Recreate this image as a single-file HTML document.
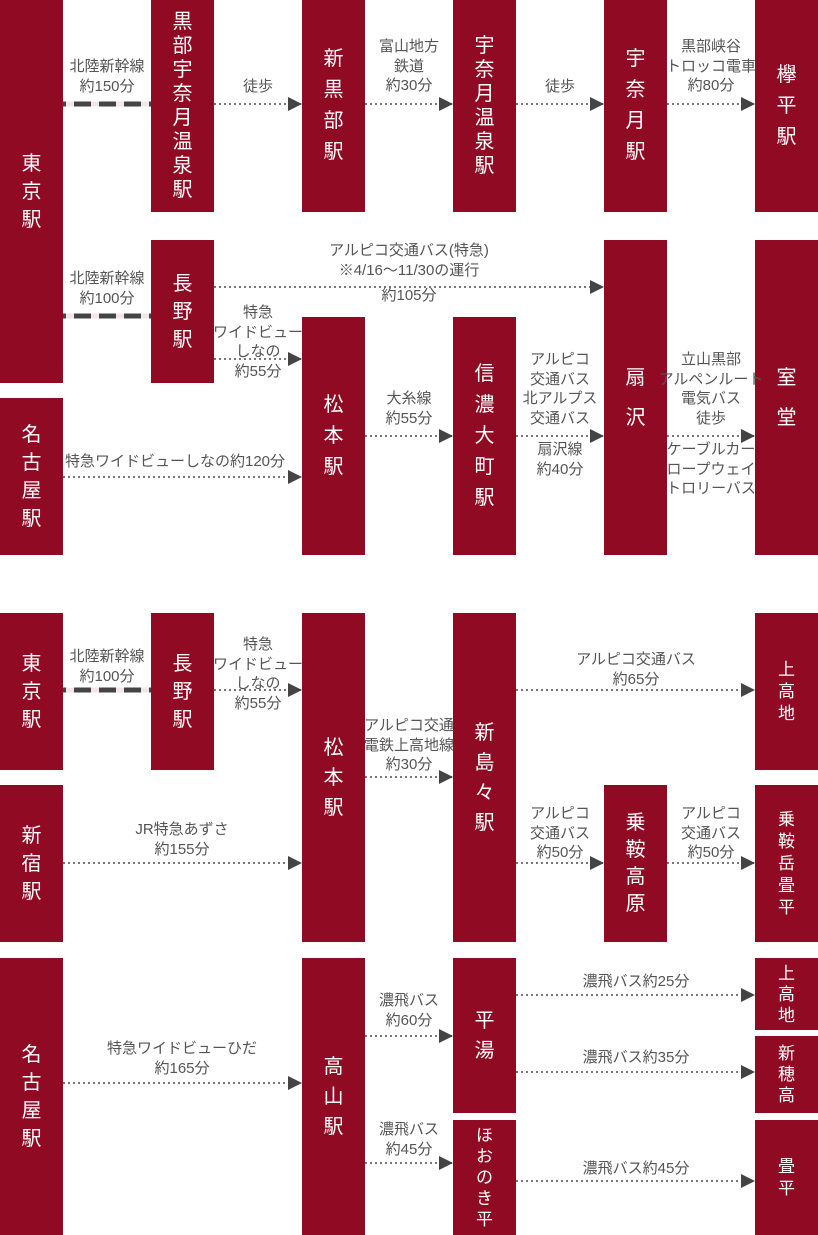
<!DOCTYPE html>
<html><head><meta charset="utf-8"><style>
body{margin:0;width:818px;height:1235px;position:relative;background:#fff;font-family:"Liberation Sans","Noto Sans CJK JP",sans-serif;overflow:hidden}
.b{position:absolute;background:#8f0a22;color:#fff;width:63px;display:flex;align-items:center;justify-content:center;text-align:center;font-size:20px;line-height:28px}
.l{position:absolute;width:180px;margin-left:-90px;text-align:center;color:#555;font-size:15px;line-height:19.5px;white-space:nowrap}
svg{position:absolute;left:0;top:0}
</style></head><body>
<svg width="818" height="1235">
<defs><marker id="a" markerWidth="14" markerHeight="14" refX="14" refY="7" orient="auto" markerUnits="userSpaceOnUse"><path d="M0,0L14,7L0,14z" fill="#444"/></marker></defs>
<g stroke="#777" stroke-width="2" stroke-dasharray="2 3" fill="none" marker-end="url(#a)">
<path d="M214,104H302"/><path d="M365,104H453"/><path d="M516,104H604"/><path d="M667,104H755"/>
<path d="M214,287H604"/><path d="M214,359H302"/><path d="M365,436H453"/><path d="M516,436H604"/><path d="M667,436H755"/><path d="M63,477H302"/>
<path d="M214,690H302"/><path d="M516,690H755"/><path d="M365,777H453"/><path d="M63,863H302"/><path d="M516,863H604"/><path d="M667,863H755"/>
<path d="M63,1083H302"/><path d="M365,1036H453"/><path d="M365,1163H453"/><path d="M516,995H755"/><path d="M516,1072H755"/><path d="M516,1181H755"/>
</g>
<g stroke-width="5" fill="none">
<path d="M63,104H151" stroke="#444"/><path d="M66,104H151" stroke="#f2e6e8" stroke-dasharray="8 17"/>
<path d="M63,316H151" stroke="#444"/><path d="M66,316H151" stroke="#f2e6e8" stroke-dasharray="8 17"/>
<path d="M63,690H151" stroke="#444"/><path d="M66,690H151" stroke="#f2e6e8" stroke-dasharray="8 17"/>
</g>
</svg>
<div class="b" style="left:0;top:0;height:383px">東<br>京<br>駅</div>
<div class="b" style="left:151px;top:0;height:212px;line-height:24px">黒<br>部<br>宇<br>奈<br>月<br>温<br>泉<br>駅</div>
<div class="b" style="left:302px;top:0;height:212px;line-height:31px">新<br>黒<br>部<br>駅</div>
<div class="b" style="left:453px;top:0;height:212px;line-height:24px">宇<br>奈<br>月<br>温<br>泉<br>駅</div>
<div class="b" style="left:604px;top:0;height:212px;line-height:31px">宇<br>奈<br>月<br>駅</div>
<div class="b" style="left:755px;top:0;height:212px;line-height:31px">欅<br>平<br>駅</div>
<div class="b" style="left:151px;top:240px;height:143px">長<br>野<br>駅</div>
<div class="b" style="left:302px;top:317px;height:238px;line-height:31px">松<br>本<br>駅</div>
<div class="b" style="left:453px;top:317px;height:238px;line-height:31px">信<br>濃<br>大<br>町<br>駅</div>
<div class="b" style="left:604px;top:240px;height:315px;line-height:40px">扇<br>沢</div>
<div class="b" style="left:755px;top:240px;height:315px;line-height:40px">室<br>堂</div>
<div class="b" style="left:0;top:398px;height:157px">名<br>古<br>屋<br>駅</div>

<div class="b" style="left:0;top:613px;height:157px">東<br>京<br>駅</div>
<div class="b" style="left:151px;top:613px;height:157px">長<br>野<br>駅</div>
<div class="b" style="left:302px;top:613px;height:329px;line-height:30px">松<br>本<br>駅</div>
<div class="b" style="left:453px;top:613px;height:329px;line-height:30px">新<br>島<br>々<br>駅</div>
<div class="b" style="left:755px;top:613px;height:157px;font-size:17px;line-height:22px">上<br>高<br>地</div>
<div class="b" style="left:0;top:785px;height:157px">新<br>宿<br>駅</div>
<div class="b" style="left:604px;top:785px;height:157px;line-height:27px">乗<br>鞍<br>高<br>原</div>
<div class="b" style="left:755px;top:785px;height:157px;font-size:17px;line-height:22px">乗<br>鞍<br>岳<br>畳<br>平</div>
<div class="b" style="left:0;top:958px;height:277px">名<br>古<br>屋<br>駅</div>
<div class="b" style="left:302px;top:958px;height:277px;line-height:30px">高<br>山<br>駅</div>
<div class="b" style="left:453px;top:958px;height:155px;line-height:30px">平<br>湯</div>
<div class="b" style="left:453px;top:1120px;height:115px;font-size:17px;line-height:21px">ほ<br>お<br>の<br>き<br>平</div>
<div class="b" style="left:755px;top:958px;height:72px;font-size:17px;line-height:21px">上<br>高<br>地</div>
<div class="b" style="left:755px;top:1036px;height:77px;font-size:17px;line-height:21px">新<br>穂<br>高</div>
<div class="b" style="left:755px;top:1120px;height:115px;font-size:17px;line-height:22px">畳<br>平</div>

<div class="l" style="left:107px;top:57px">北陸新幹線<br>約150分</div>
<div class="l" style="left:258px;top:77px">徒歩</div>
<div class="l" style="left:409px;top:37px">富山地方<br>鉄道<br>約30分</div>
<div class="l" style="left:560px;top:77px">徒歩</div>
<div class="l" style="left:711px;top:37px">黒部峡谷<br>トロッコ電車<br>約80分</div>
<div class="l" style="left:107px;top:269px">北陸新幹線<br>約100分</div>
<div class="l" style="left:409px;top:241px;width:260px;margin-left:-130px">アルピコ交通バス(特急)<br>※4/16～11/30の運行</div>
<div class="l" style="left:409px;top:286px">約105分</div>
<div class="l" style="left:258px;top:303px">特急<br>ワイドビュー<br>しなの<br>約55分</div>
<div class="l" style="left:409px;top:389px">大糸線<br>約55分</div>
<div class="l" style="left:560px;top:350px">アルピコ<br>交通バス<br>北アルプス<br>交通バス</div>
<div class="l" style="left:560px;top:440px">扇沢線<br>約40分</div>
<div class="l" style="left:711px;top:350px">立山黒部<br>アルペンルート<br>電気バス<br>徒歩</div>
<div class="l" style="left:711px;top:440px">ケーブルカー<br>ロープウェイ<br>トロリーバス</div>
<div class="l" style="left:175px;top:452px;width:260px;margin-left:-130px">特急ワイドビューしなの約120分</div>

<div class="l" style="left:107px;top:647px">北陸新幹線<br>約100分</div>
<div class="l" style="left:258px;top:635px">特急<br>ワイドビュー<br>しなの<br>約55分</div>
<div class="l" style="left:636px;top:650px">アルピコ交通バス<br>約65分</div>
<div class="l" style="left:409px;top:716px">アルピコ交通<br>電鉄上高地線<br>約30分</div>
<div class="l" style="left:182px;top:820px">JR特急あずさ<br>約155分</div>
<div class="l" style="left:560px;top:804px">アルピコ<br>交通バス<br>約50分</div>
<div class="l" style="left:711px;top:804px">アルピコ<br>交通バス<br>約50分</div>
<div class="l" style="left:182px;top:1039px">特急ワイドビューひだ<br>約165分</div>
<div class="l" style="left:409px;top:991px">濃飛バス<br>約60分</div>
<div class="l" style="left:409px;top:1120px">濃飛バス<br>約45分</div>
<div class="l" style="left:636px;top:972px">濃飛バス約25分</div>
<div class="l" style="left:636px;top:1048px">濃飛バス約35分</div>
<div class="l" style="left:636px;top:1159px">濃飛バス約45分</div>
</body></html>
